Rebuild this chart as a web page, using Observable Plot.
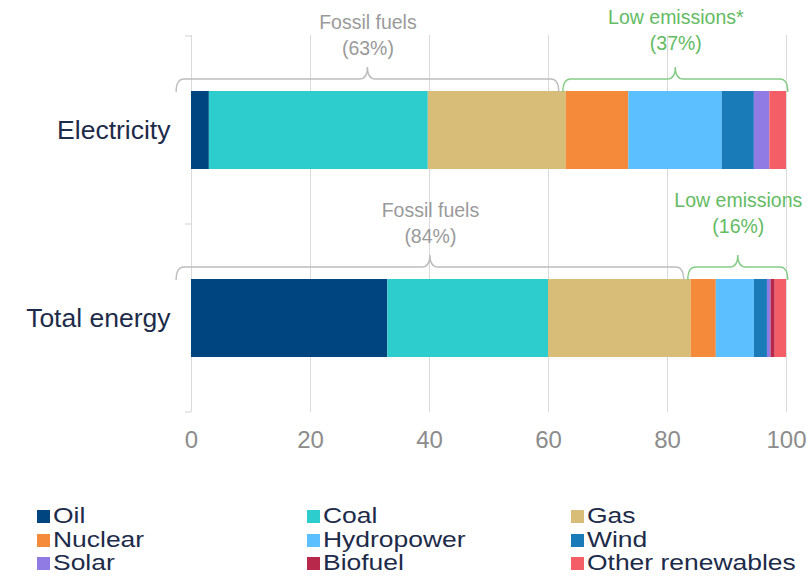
<!DOCTYPE html>
<html>
<head>
<meta charset="utf-8">
<script src="https://cdn.jsdelivr.net/npm/d3@7"></script>
<script src="https://cdn.jsdelivr.net/npm/@observablehq/plot@0.6"></script>
<style>
  html, body { margin: 0; padding: 0; background: #fff; }
  body { width: 809px; height: 576px; overflow: hidden; font-family: "Liberation Sans", Arial, sans-serif; }
  #chart svg { display: block; }
  .legend {
    display: grid;
    grid-template-columns: 270px 264px auto;
    padding-left: 37px;
    margin-top: 35px;
    color: #1d2b4a;
    font-size: 21.5px;
    line-height: 23.5px;
  }
  .legend .item { display: flex; align-items: center; white-space: nowrap; height: 23.5px; }
  .legend .sw { width: 13px; height: 13px; margin-right: 3px; flex: none; }
  .legend .name { display: inline-block; transform: scaleX(1.23); transform-origin: left center; }
</style>
</head>
<body>
<div id="chart"></div>
<div class="legend" id="legend"></div>
<script>
// Share of electricity and total energy by source (%)
const categories = ["Electricity", "Total energy"];
const sources = ["Oil", "Coal", "Gas", "Nuclear", "Hydropower", "Wind", "Solar", "Biofuel", "Other renewables"];
const sourceColors = ["#004480", "#2ecdcd", "#d7bd77", "#f68a3b", "#5cbfff", "#1a7bb9", "#8f7be3", "#b8284a", "#f45e66"];
const electricity = [3, 36.8, 23.2, 10.5, 15.7, 5.4, 2.6, 0, 2.8];
const totalEnergy = [33, 27, 24, 4.2, 6.4, 2.2, 0.6, 0.7, 1.9];
const fossilSources = ["Oil", "Coal", "Gas"];
const lowEmissionsLabels = ["Low emissions*", "Low emissions"];
const xTicks = [0, 20, 40, 60, 80, 100];

const seriesByCategory = [electricity, totalEnergy];
const rows = categories.flatMap((category, i) =>
  sources.map((source, j) => ({category, source, value: seriesByCategory[i][j]}))
);

// Fossil / low-emission groupings, computed from the series
const groups = categories.map((category, i) => {
  const fossil = d3.sum(sources, (s, j) => fossilSources.includes(s) ? seriesByCategory[i][j] : 0);
  const total = d3.sum(seriesByCategory[i]);
  return {
    category,
    fossil,
    low: total - fossil,
    fossilStart: -2.5,
    fossilEnd: fossil - 1.2,
    lowStart: fossil - 0.5,
    lowEnd: total + 0.3,
    lowLabel: lowEmissionsLabels[i]
  };
});

const grey = "#9a9a9a";
const green = "#63bb63";
const navy = "#1d2b4a";
const barInset = 55;

function bracePath(x1, x2, yEnd, yMid, yTip) {
  const r = 8, xm = (x1 + x2) / 2;
  return `M${x1},${yEnd} Q${x1},${yMid} ${x1 + r},${yMid} L${xm - r},${yMid} ` +
    `Q${xm},${yMid} ${xm},${yTip} Q${xm},${yMid} ${xm + r},${yMid} ` +
    `L${x2 - r},${yMid} Q${x2},${yMid} ${x2},${yEnd}`;
}

// Curly braces over each bar, drawn with the plot's own x and y scales
function braces(index, scales) {
  const {x, y} = scales;
  const g = d3.create("svg:g").attr("fill", "none").attr("stroke-width", 1.4);
  for (const d of groups) {
    const top = y(d.category) + barInset;
    const yEnd = top + 1, yMid = top - 12, yTip = top - 24;
    g.append("path").attr("stroke", "#bdbdbd")
      .attr("d", bracePath(x(d.fossilStart), x(d.fossilEnd), yEnd, yMid, yTip));
    g.append("path").attr("stroke", "#86cc86")
      .attr("d", bracePath(x(d.lowStart), x(d.lowEnd), yEnd, yMid, yTip));
  }
  // short category ticks at the band edges
  const edges = [...categories.map((c) => y(c)), y(categories.at(-1)) + y.bandwidth()];
  for (const e of edges) {
    g.append("line").attr("stroke", "#d0d0d0").attr("stroke-width", 1)
      .attr("x1", x(0) - 6).attr("x2", x(0)).attr("y1", e).attr("y2", e);
  }
  return g.node();
}

const labelStyle = {lineHeight: 1.33, fontSize: 19.5};

const chart = Plot.plot({
  width: 809,
  height: 470,
  marginTop: 35,
  marginBottom: 58,
  marginLeft: 191,
  marginRight: 23,
  style: {fontFamily: "'Liberation Sans', Arial, sans-serif", background: "#fff"},
  x: {domain: [0, 100], label: null},
  y: {domain: categories, padding: 0, label: null},
  color: {domain: sources, range: sourceColors},
  marks: [
    Plot.ruleX(xTicks, {stroke: "#dadada", strokeWidth: 1}),
    Plot.barX(rows, Plot.stackX({
      x: "value", y: "category", fill: "source", order: null,
      insetTop: barInset, insetBottom: barInset
    })),
    braces,
    Plot.text(groups, {
      x: (d) => (d.fossilStart + d.fossilEnd) / 2, y: "category",
      text: (d) => `Fossil fuels\n(${Math.round(d.fossil)}%)`,
      dy: -96.5, fill: grey, ...labelStyle
    }),
    Plot.text(groups, {
      filter: (d, i) => i === 0,
      x: (d) => (d.lowStart + d.lowEnd) / 2, y: "category",
      text: (d) => `${d.lowLabel}\n(${Math.round(d.low)}%)`,
      dy: -102, fill: green, ...labelStyle
    }),
    Plot.text(groups, {
      filter: (d, i) => i === 1,
      x: (d) => (d.lowStart + d.lowEnd) / 2, y: "category",
      text: (d) => `${d.lowLabel}\n(${Math.round(d.low)}%)`,
      dy: -107, fill: green, ...labelStyle
    }),
    Plot.axisX(xTicks, {tickSize: 0, tickPadding: 18, fontSize: 24, color: "#8c8c8c", label: null}),
    Plot.axisY({tickSize: 0, tickPadding: 21, fontSize: 26.5, color: navy, label: null})
  ]
});
document.getElementById("chart").append(chart);

const legend = d3.select("#legend");
sources.forEach((s, i) => {
  const item = legend.append("div").attr("class", "item");
  item.append("span").attr("class", "sw").style("background", sourceColors[i]);
  item.append("span").attr("class", "name").text(s);
});
</script>
</body>
</html>
